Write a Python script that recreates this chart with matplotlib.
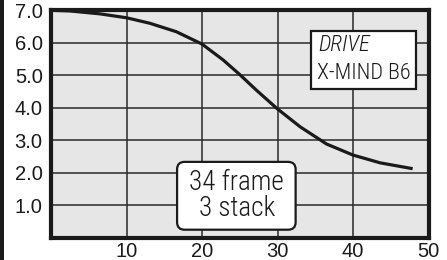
import matplotlib
matplotlib.use("Agg")
import matplotlib.pyplot as plt
from matplotlib.patches import FancyBboxPatch, Rectangle

# curve
frames = [0, 2.5, 6.5, 10, 13.1, 16.6, 20, 22.8, 25, 27.2, 29.9, 33, 36.5, 40, 43.6, 47.9]
values = [7.0, 6.98, 6.89, 6.77, 6.60, 6.34, 5.96, 5.47, 5.02, 4.54, 3.98, 3.41, 2.88, 2.54, 2.30, 2.12]

y_ticks = [1, 2, 3, 4, 5, 6, 7]
y_labels = ["1.0", "2.0", "3.0", "4.0", "5.0", "6.0", "7.0"]
x_ticks = [10, 20, 30, 40, 50]
x_labels = ["10", "20", "30", "40", "50"]

drive_label = "DRIVE"
model_label = "X-MIND B6"
config_label = "34 frame\n3 stack"

narrow = ["Roboto Condensed", "Liberation Sans"]

fig = plt.figure(figsize=(4.47, 2.60), dpi=100)
ax = fig.add_axes([51 / 447, 1 - 237.5 / 260, (428.5 - 51) / 447, (237.5 - 10.3) / 260])
ax.set_facecolor("#e6e6e6")

ax.plot(frames, values, color="#1a1a1a", lw=2.3, solid_capstyle="butt",
        solid_joinstyle="round", zorder=3)

ax.set_xlim(0, 50)
ax.set_ylim(0, 7)
ax.set_xticks(x_ticks)
ax.set_xticklabels(x_labels)
ax.set_yticks(y_ticks)
ax.set_yticklabels(y_labels)
ax.tick_params(length=0, labelsize=14.5)
ax.tick_params(axis="x", pad=3)
ax.tick_params(axis="y", pad=6)
for lab in ax.get_xticklabels() + ax.get_yticklabels():
    lab.set_family("Liberation Sans")
    lab.set_color("#1a1a1a")
ax.grid(True, color="#2a2a2a", lw=1.1, zorder=1)
ax.set_axisbelow(True)
for s in ax.spines.values():
    s.set_linewidth(3.0)
    s.set_color("#1a1a1a")
    s.set_zorder(5)

# drive box (square corners)
ax.add_patch(Rectangle((34.4, 4.59), 13.9, 1.76, facecolor="white",
                       edgecolor="#1a1a1a", lw=1.6, zorder=4))
ax.text(35.4, 5.92, drive_label, fontsize=16, style="italic", weight=300,
        family=narrow, ha="left", va="center", zorder=6, color="#1a1a1a")
ax.text(35.2, 5.05, model_label, fontsize=16, weight=300, family=narrow,
        ha="left", va="center", zorder=6, color="#1a1a1a")

# frame/stack box (rounded)
ax.add_patch(FancyBboxPatch((16.7, 0.24), 15.7, 2.09,
                            boxstyle="round,pad=0,rounding_size=1.0",
                            mutation_aspect=0.23,
                            facecolor="white", edgecolor="#1a1a1a", lw=1.6, zorder=4))
ax.text(24.6, 1.3, config_label, fontsize=19.5, weight=300, family=narrow,
        ha="center", va="center", linespacing=0.95, zorder=6, color="#1a1a1a")

# black rule on the left edge of the figure
fig.add_artist(Rectangle((0, 0), 4 / 447, 1, transform=fig.transFigure,
                         facecolor="#1a1a1a", edgecolor="none"))

fig.savefig("out.png", dpi=100)
